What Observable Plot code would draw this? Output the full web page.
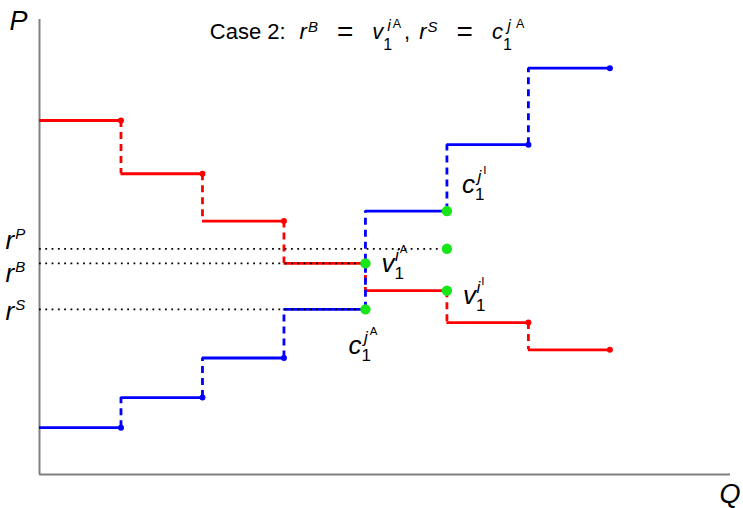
<!DOCTYPE html>
<html><head><meta charset="utf-8">
<script src="https://cdn.jsdelivr.net/npm/d3@7"></script>
<script src="https://cdn.jsdelivr.net/npm/@observablehq/plot@0.6"></script>
<style>body{margin:0;background:#fff}</style>
</head><body><div id="chart"></div>
<script>
// ---- data ----
const stepQ = [0, 1, 2, 3, 4, 5, 6];                 // left end of each unit step
const demandP = [7.78, 6.61, 5.57, 4.64, 4.04, 3.34, 2.74];   // red (buyers)
const supplyP = [1.03, 1.69, 2.56, 3.63, 5.79, 7.25, 8.93];   // blue (sellers)
const rP = 4.96;
const rB = demandP[3];
const rS = supplyP[3];
const refNames = ["rP", "rB", "rS"];
const refValues = [rP, rB, rS];
const refEnds = [5, 4, 4];
const greenQ = [4, 4, 5, 5, 5];
const greenP = [rB, rS, supplyP[4], rP, demandP[4]];
const qMax = 8.48, pMax = 10;

// math-style text pieces: [text, size, baseline offset, dx, italic]
const G = 19;
const mathLabels = [
  [["Case 2:",22,0,0,0],["r",22,0,14,1],["B",15,-7,1,1],["=",28,2,G,0],["v",22,0,G,1],["1",16,11,0,0],["i",16,-8,-5,1],["A",12.5,-11,2,0],[",",22,0,3,0],["r",22,0,9,1],["S",15,-7,1,1],["=",28,2,G,0],["c",22,0,G,1],["1",16,11,0,0],["j",16,-8,-4.5,1],["A",12.5,-11,5,0]],
  [["P",27,0,0,1]],
  [["Q",27,0,0,1]],
  [["r",26,0,0,1],["P",15,-10,1,1]],
  [["r",26,0,0,1],["B",15,-10,1,1]],
  [["r",26,0,0,1],["S",15,-10,1,1]],
  [["v",26,0,0,1],["1",17,7,0,0],["i",17,-11,-9,1],["A",11.5,-19,1,0]],
  [["c",26,0,0,1],["1",17,7,0,0],["j",17,-11,-7,1],["A",11.5,-19,2,0]],
  [["v",26,0,0,1],["1",17,7,0,0],["i",17,-11,-9,1],["I",11.5,-19,1,0]],
  [["c",26,0,0,1],["1",17,7,0,0],["j",17,-11,-7,1],["I",11.5,-19,2,0]]
];

const demandH = stepQ.map((q, i) => ({q1: q, q2: q + 1, p: demandP[i]}));
const supplyH = stepQ.map((q, i) => ({q1: q, q2: q + 1, p: supplyP[i]}));
const demandV = stepQ.slice(0, -1).map((q, i) => ({q: q + 1, p1: demandP[i], p2: demandP[i + 1]}));
const supplyV = stepQ.slice(0, -1).map((q, i) => ({q: q + 1, p1: supplyP[i], p2: supplyP[i + 1]}));
const demandDots = stepQ.map((q, i) => ({q: q + 1, p: demandP[i]}));
const supplyDots = stepQ.map((q, i) => ({q: q + 1, p: supplyP[i]}));
const refs = refNames.map((n, i) => ({name: n, p: refValues[i], q2: refEnds[i]}));
const greens = greenQ.map((q, i) => ({q, p: greenP[i]}));

const dataLabels = [
  {k: 3, q: 0, p: rP, dx: -34, dy: 0},
  {k: 4, q: 0, p: rB, dx: -34, dy: 19},
  {k: 5, q: 0, p: rS, dx: -34, dy: 11},
  {k: 6, q: 4, p: rB, dx: 16, dy: 9},
  {k: 7, q: 4, p: rS, dx: -17, dy: 45},
  {k: 8, q: 5, p: demandP[4], dx: 16, dy: 13},
  {k: 9, q: 5, p: supplyP[4], dx: 15, dy: -18}
].map(d => ({...d, key: "§" + d.k}));

const RED = "#ff0000", BLUE = "#0000ff", GREEN = "#19e619";
const LW = 2.8, DASH = "7,5";
const txt = {textAnchor: "start", lineAnchor: "bottom", fill: "black"};

const chart = Plot.plot({
  width: 743, height: 508,
  marginLeft: 39, marginRight: 13, marginTop: 19, marginBottom: 34,
  x: {domain: [0, qMax], axis: null},
  y: {domain: [0, pMax], axis: null},
  style: {fontFamily: "'Liberation Sans', Arial, sans-serif", background: "white", overflow: "visible"},
  marks: [
    Plot.ruleX([0], {y1: 0, y2: pMax, stroke: "#808080", strokeWidth: 2}),
    Plot.ruleY([0], {x1: 0, x2: qMax, stroke: "#808080", strokeWidth: 2}),
    Plot.ruleY(demandH, {y: "p", x1: "q1", x2: "q2", stroke: RED, strokeWidth: LW}),
    Plot.ruleX(demandV, {x: "q", y1: "p1", y2: "p2", stroke: RED, strokeWidth: LW, strokeDasharray: DASH}),
    Plot.dot(demandDots, {x: "q", y: "p", r: 3, fill: RED}),
    Plot.ruleY(supplyH, {y: "p", x1: "q1", x2: "q2", stroke: BLUE, strokeWidth: LW}),
    Plot.ruleX(supplyV, {x: "q", y1: "p1", y2: "p2", stroke: BLUE, strokeWidth: LW, strokeDasharray: DASH}),
    Plot.dot(supplyDots, {x: "q", y: "p", r: 3, fill: BLUE}),
    Plot.ruleY(refs, {y: "p", x1: 0, x2: "q2", stroke: "black", strokeWidth: 1.8, strokeDasharray: "1.8,4.5"}),
    Plot.dot(greens, {x: "q", y: "p", r: 5.2, fill: GREEN}),
    Plot.text(["§0"], {...txt, frameAnchor: "top", dx: -18, dy: 19, textAnchor: "middle"}),
    Plot.text(["§1"], {...txt, frameAnchor: "top-left", dx: -30, dy: 10}),
    Plot.text(["§2"], {...txt, frameAnchor: "bottom-right", dx: -11, dy: 28}),
    ...dataLabels.map(d => Plot.text([d], {...txt, x: "q", y: "p", text: "key", dx: d.dx, dy: d.dy}))
  ]
});

const NS = "http://www.w3.org/2000/svg";
chart.querySelectorAll("text").forEach(t => {
  const m = /^§(\d+)$/.exec(t.textContent);
  if (!m) return;
  const spec = mathLabels[+m[1]];
  t.textContent = "";
  t.style.whiteSpace = "pre";
  let base = 0;
  for (const [s, size, off, dx, ital] of spec) {
    const ts = document.createElementNS(NS, "tspan");
    ts.style.fontSize = size + "px";
    ts.style.fontStyle = ital ? "italic" : "normal";
    if (off - base) ts.setAttribute("dy", off - base);
    base = off;
    if (dx) ts.setAttribute("dx", dx);
    ts.textContent = s;
    t.appendChild(ts);
  }
});
document.getElementById("chart").appendChild(chart);
</script>
</body></html>
